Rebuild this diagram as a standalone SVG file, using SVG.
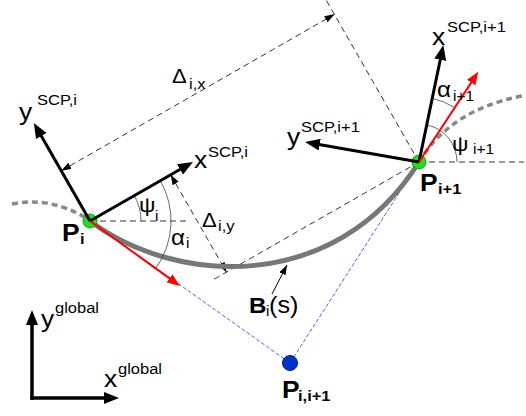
<svg xmlns="http://www.w3.org/2000/svg" width="526" height="416" viewBox="0 0 526 416">
<defs>
<style>
.t{font-family:"Liberation Sans",Arial,sans-serif;fill:#000}
.b{font-weight:bold}
.dash{stroke:#333;stroke-width:1;stroke-dasharray:6 4;fill:none}
.dim{stroke:#333;stroke-width:1;stroke-dasharray:6 4;fill:none;marker-start:url(#dm);marker-end:url(#dm)}
.blue{stroke:#4a6fe0;stroke-width:1;stroke-dasharray:4 2;fill:none}
.gdash{stroke:#888;stroke-width:3.5;stroke-dasharray:6 4;fill:none}
.arc{stroke:#444;stroke-width:0.8;fill:none}
.ax{stroke:#000;stroke-width:3;fill:none;marker-end:url(#ah)}
.red{stroke:#f00;stroke-width:2;fill:none;marker-end:url(#ahr)}
.pt{fill:#22dd22;stroke:#11a011;stroke-width:1}
.m{font-size:24px}
.s{font-size:15px}
</style>
<marker id="ah" markerUnits="userSpaceOnUse" markerWidth="16" markerHeight="12" refX="8" refY="6" orient="auto"><path d="M0,0 L15,6 L0,12 z" fill="#000"/></marker>
<marker id="ahr" markerUnits="userSpaceOnUse" markerWidth="14" markerHeight="10" refX="6" refY="5" orient="auto"><path d="M0,0 L13,5 L0,10 z" fill="#f00"/></marker>
<marker id="dm" markerUnits="userSpaceOnUse" markerWidth="10" markerHeight="7" refX="10" refY="3.5" orient="auto-start-reverse"><path d="M0,0 L10,3.5 L0,7 z" fill="#000"/></marker>
</defs>

<g id="connectors">
  <line class="dash" x1="90" y1="221" x2="188" y2="221"/>
  <line class="dash" x1="419" y1="162" x2="524" y2="162"/>
  <line class="dash" x1="419" y1="162" x2="325" y2="-2"/>
  <line class="dash" x1="419" y1="162" x2="211" y2="281"/>
  <line class="dim" x1="61.3" y1="170.8" x2="334.5" y2="14.3"/>
  <line class="dim" x1="170.7" y1="174.8" x2="226.5" y2="272.2"/>
  <polyline class="blue" points="90,221 290,363 419,162"/>
  <path class="gdash" d="M12,204 Q50,196 88,219"/>
  <path class="gdash" d="M419,162 Q450,110 522,96"/>
  <path d="M90,221 C175,285 335,295 419,162" stroke="#777" stroke-width="5" fill="none"/>
  <path class="arc" d="M141,221 A51,51 0 0 0 134.3,195.6"/>
  <path class="arc" d="M160.3,180.7 A81,81 0 0 1 155.7,268.4"/>
  <path class="arc" d="M457,162 A38,38 0 0 0 426.7,124.8"/>
  <path class="arc" d="M432.2,98.4 A65,65 0 0 1 454.7,107.7"/>
  <line x1="272" y1="294" x2="287" y2="265" stroke="#000" stroke-width="1" marker-end="url(#dm)"/>
</g>

<g id="node-Pi">
  <circle class="pt" cx="90" cy="221" r="7"/>
  <line class="ax" x1="90" y1="221" x2="37.3" y2="129"/>
  <line class="ax" x1="90" y1="221" x2="186.9" y2="165.5"/>
  <line class="red" x1="90" y1="221" x2="174.3" y2="281.9"/>
  <text class="t b" transform="translate(62,241) scale(1.1,1)" font-size="24">P</text>
  <text class="t b" transform="translate(80,244) scale(1.1,1)" font-size="15">i</text>
</g>

<g id="node-Pi1">
  <circle class="pt" cx="419" cy="162" r="7"/>
  <line class="ax" x1="419" y1="162" x2="441.9" y2="51.9"/>
  <line class="ax" x1="419" y1="162" x2="311.9" y2="143.2"/>
  <line class="red" x1="419" y1="162" x2="474.5" y2="77.6"/>
  <text class="t b" transform="translate(420,191) scale(1.1,1)" font-size="24">P</text>
  <text class="t b" transform="translate(438,194) scale(1.1,1)" font-size="15">i+1</text>
</g>

<g id="node-Pii1">
  <circle cx="290" cy="363" r="7.5" fill="#0033cc" stroke="#001a80" stroke-width="1"/>
  <text class="t b" transform="translate(282,398) scale(1.1,1)" font-size="24">P</text>
  <text class="t b" transform="translate(298,401) scale(1.1,1)" font-size="15">i,i+1</text>
</g>

<g id="global-axes">
  <line x1="32" y1="398" x2="32" y2="317" stroke="#000" stroke-width="3.5" stroke-linecap="square" marker-end="url(#ah)"/>
  <line x1="32" y1="398" x2="112" y2="398" stroke="#000" stroke-width="3.5" stroke-linecap="square" marker-end="url(#ah)"/>
</g>

<g id="labels">
  <text class="t m" transform="translate(19,120) scale(1.1,1)">y</text>
  <text class="t s" transform="translate(37,105) scale(1.1,1)">SCP,i</text>
  <text class="t m" transform="translate(194,168) scale(1.1,1)">x</text>
  <text class="t s" transform="translate(208,157) scale(1.1,1)">SCP,i</text>
  <text class="t m" transform="translate(287,145) scale(1.1,1)">y</text>
  <text class="t s" transform="translate(301,132) scale(1.1,1)">SCP,i+1</text>
  <text class="t m" transform="translate(432,45) scale(1.1,1)">x</text>
  <text class="t s" transform="translate(447,32) scale(1.1,1)">SCP,i+1</text>
  <text class="t m" transform="translate(41,327) scale(1.1,1)">y</text>
  <text class="t s" transform="translate(55,313) scale(1.1,1)">global</text>
  <text class="t m" transform="translate(104,387) scale(1.1,1)">x</text>
  <text class="t s" transform="translate(118,374) scale(1.1,1)">global</text>
  <text class="t" transform="translate(172,83) scale(1.1,1)" font-size="20">Δ</text>
  <text class="t" transform="translate(189,89) scale(1.1,1)" font-size="15">i,x</text>
  <text class="t" transform="translate(202,227) scale(1.1,1)" font-size="20">Δ</text>
  <text class="t" transform="translate(218,231) scale(1.1,1)" font-size="15">i,y</text>
  <text class="t" transform="translate(171,245) scale(1.1,1)" font-size="22">α</text>
  <text class="t" transform="translate(186,248) scale(1.1,1)" font-size="14">i</text>
  <text class="t" transform="translate(139,212) scale(1.1,1)" font-size="21">ψ</text>
  <text class="t" transform="translate(155,221) scale(1.1,1)" font-size="14">i</text>
  <text class="t" transform="translate(452,151) scale(1.1,1)" font-size="21">ψ</text>
  <text class="t" transform="translate(473,154) scale(1.1,1)" font-size="14">i+1</text>
  <text class="t" transform="translate(437,97) scale(1.1,1)" font-size="22">α</text>
  <text class="t" transform="translate(453,101) scale(1.1,1)" font-size="14">i+1</text>
  <text class="t b" transform="translate(249,313) scale(1.1,1)" font-size="22">B</text>
  <text class="t" transform="translate(266,316) scale(1.1,1)" font-size="14">i</text>
  <text class="t" transform="translate(269,313) scale(1.1,1)" font-size="23">(s)</text>
</g>
</svg>
